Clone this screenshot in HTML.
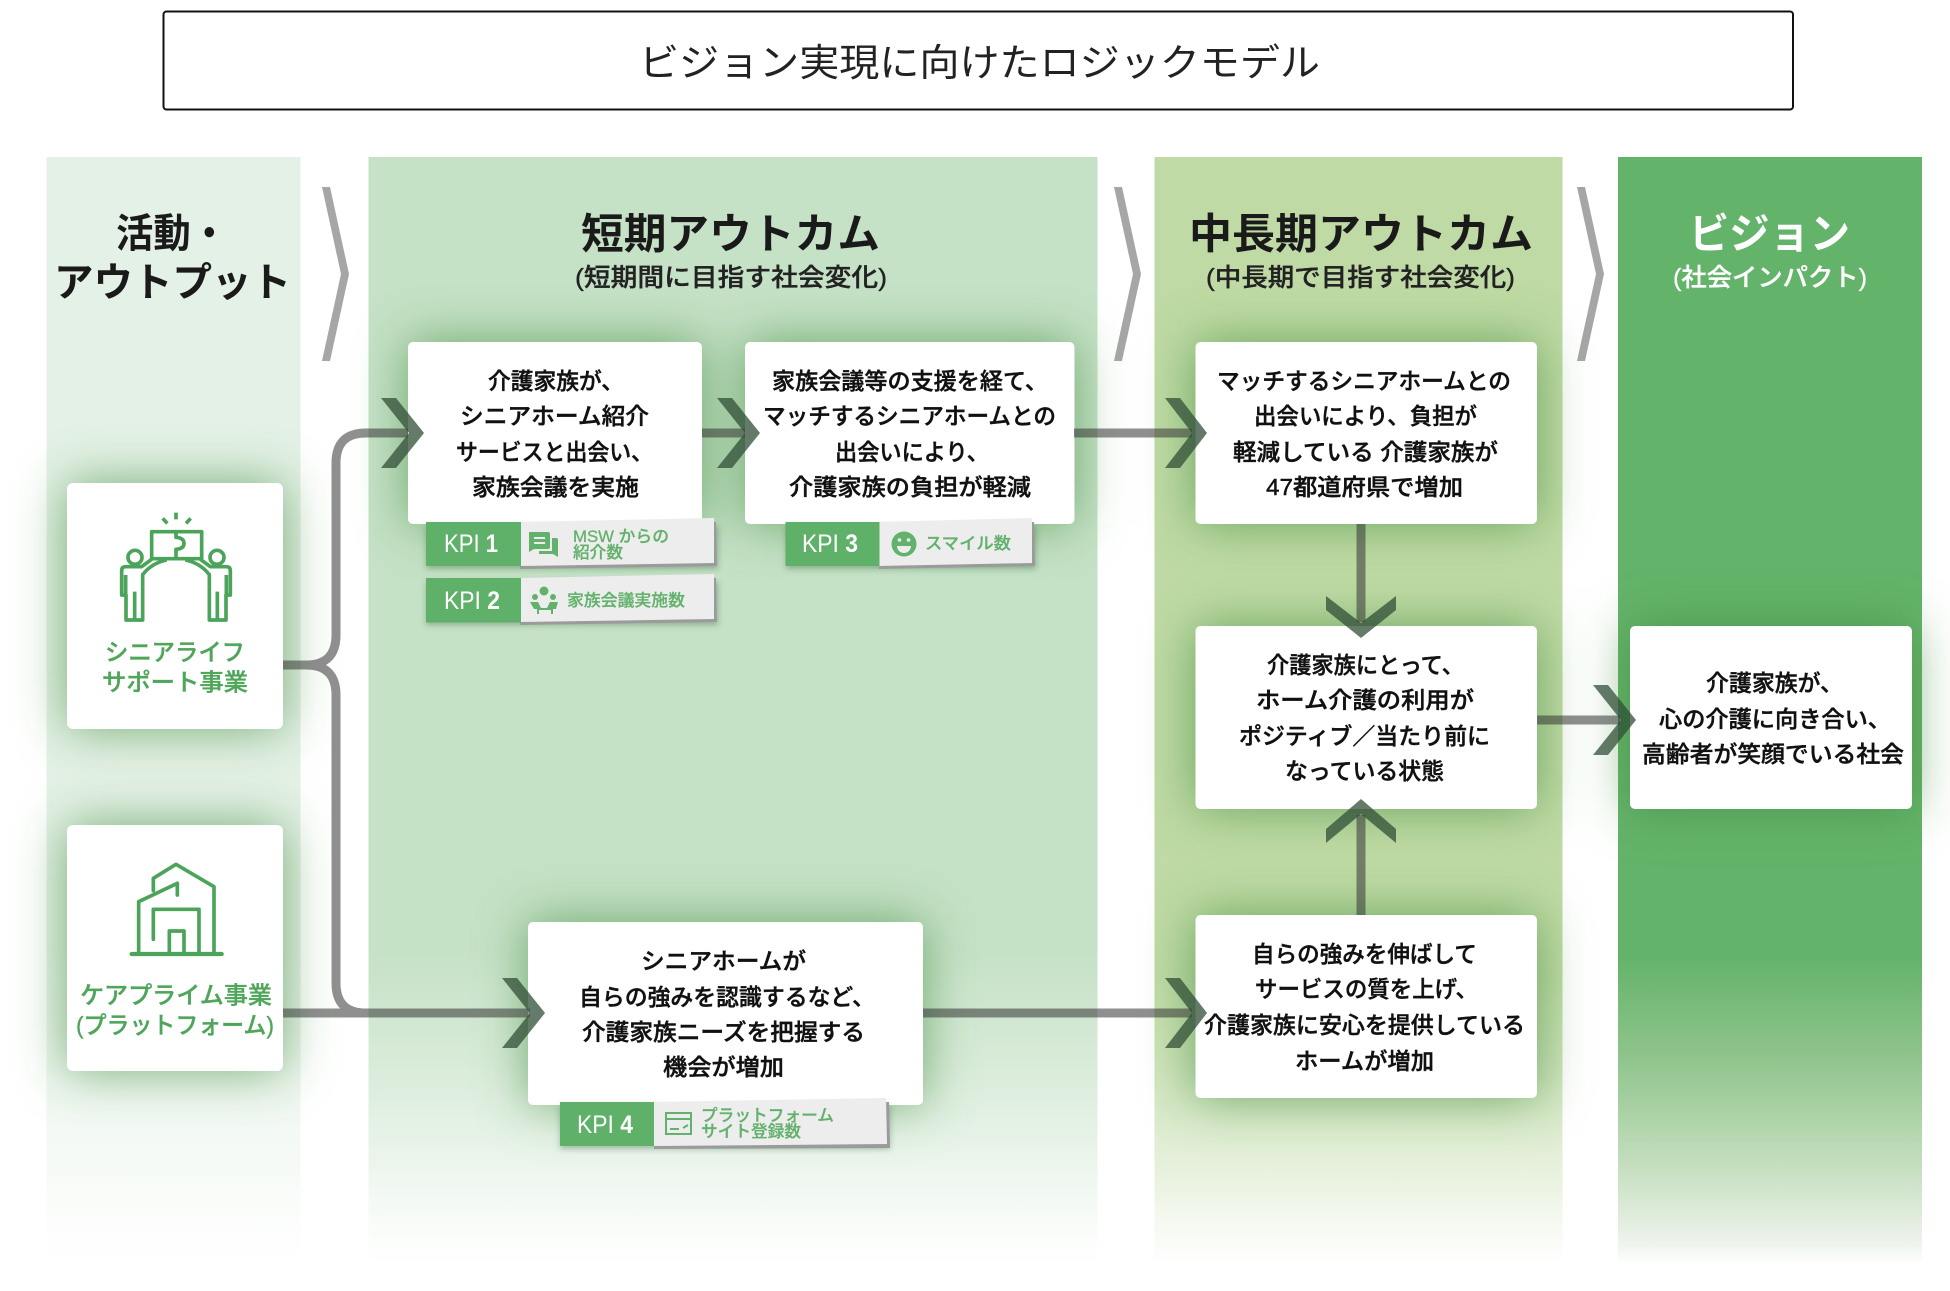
<!DOCTYPE html>
<html lang="ja">
<head>
<meta charset="utf-8">
<title>ビジョン実現に向けたロジックモデル</title>
<style>
html,body{margin:0;padding:0;background:#fff;width:1950px;height:1291px;overflow:hidden}
svg{display:block}
text{font-family:"Liberation Sans","Noto Sans CJK JP",sans-serif;dominant-baseline:central}
.t{font-size:23px;font-weight:500;fill:#111;stroke:#111;stroke-width:.45px}
.h{font-size:42px;font-weight:700;fill:#1a1a1a}
.s{font-size:25px;font-weight:500;fill:#222;stroke:#222;stroke-width:.35px}
.g{font-size:24px;font-weight:500;fill:#4fa65a;stroke:#4fa65a;stroke-width:.35px}
.kw{font-size:25px;fill:#fff;font-family:"Liberation Sans",sans-serif}
.kt{font-size:16.5px;font-weight:500;fill:#62b16c;stroke:#62b16c;stroke-width:.25px}
</style>
</head>
<body>
<svg xmlns="http://www.w3.org/2000/svg" width="1950" height="1291" viewBox="0 0 1950 1291">
<defs>
<linearGradient id="c1" gradientUnits="userSpaceOnUse" x1="0" y1="157" x2="0" y2="1265">
<stop offset="0" stop-color="#e4f1e6"/><stop offset=".716" stop-color="#e4f1e6"/><stop offset=".81" stop-color="#e4f1e6" stop-opacity=".7"/><stop offset=".904" stop-color="#e4f1e6" stop-opacity=".35"/><stop offset=".96" stop-color="#e4f1e6" stop-opacity=".12"/><stop offset="1" stop-color="#e4f1e6" stop-opacity="0"/></linearGradient>
<linearGradient id="c2" gradientUnits="userSpaceOnUse" x1="0" y1="157" x2="0" y2="1265">
<stop offset="0" stop-color="#c5e1c6"/><stop offset=".716" stop-color="#c5e1c6"/><stop offset=".81" stop-color="#c5e1c6" stop-opacity=".7"/><stop offset=".904" stop-color="#c5e1c6" stop-opacity=".35"/><stop offset=".96" stop-color="#c5e1c6" stop-opacity=".12"/><stop offset="1" stop-color="#c5e1c6" stop-opacity="0"/></linearGradient>
<linearGradient id="c3" gradientUnits="userSpaceOnUse" x1="0" y1="157" x2="0" y2="1265">
<stop offset="0" stop-color="#bfdaa4"/><stop offset=".74" stop-color="#bfdaa4"/><stop offset=".83" stop-color="#bfdaa4" stop-opacity=".72"/><stop offset=".92" stop-color="#bfdaa4" stop-opacity=".35"/><stop offset=".97" stop-color="#bfdaa4" stop-opacity=".12"/><stop offset="1" stop-color="#bfdaa4" stop-opacity="0"/></linearGradient>
<linearGradient id="c4" gradientUnits="userSpaceOnUse" x1="0" y1="157" x2="0" y2="1265">
<stop offset="0" stop-color="#64b36a"/><stop offset=".722" stop-color="#64b36a"/><stop offset=".812" stop-color="#8fc48c"/><stop offset=".913" stop-color="#c6dfc0"/><stop offset=".98" stop-color="#eef3ec"/><stop offset="1" stop-color="#ffffff"/></linearGradient>
<filter id="b" filterUnits="userSpaceOnUse" x="0" y="0" width="1950" height="1291"><feGaussianBlur stdDeviation="25"/></filter>
<filter id="ks" filterUnits="userSpaceOnUse" x="0" y="0" width="1950" height="1291"><feGaussianBlur stdDeviation="3"/></filter>
</defs>

<!-- title -->
<rect x="163.5" y="11.5" width="1629.5" height="98" rx="3" fill="#fff" stroke="#111" stroke-width="2"/>
<text x="639" y="64" font-size="38" fill="#222" textLength="681" lengthAdjust="spacingAndGlyphs">ビジョン実現に向けたロジックモデル</text>

<!-- columns -->
<rect x="46.5" y="157" width="254" height="1108" fill="url(#c1)"/>
<rect x="368.5" y="157" width="729" height="1108" fill="url(#c2)"/>
<rect x="1154.5" y="157" width="408" height="1108" fill="url(#c3)"/>
<rect x="1618" y="157" width="304" height="1108" fill="url(#c4)"/>

<!-- chevrons -->
<g fill="#a6a6a6">
<polygon points="322,187 330,187 349,274 330,361 322,361 341,274"/>
<polygon points="1114,187 1122,187 1141,274 1122,361 1114,361 1133,274"/>
<polygon points="1577,187 1585,187 1604,274 1585,361 1577,361 1596,274"/>
</g>

<!-- glows -->
<g filter="url(#b)" fill="#3f8a3c" fill-opacity=".68">
<rect x="408" y="342" width="294" height="182"/>
<rect x="745" y="342" width="329" height="182"/>
<rect x="1195" y="342" width="342" height="182"/>
<rect x="1195" y="626" width="342" height="183"/>
<rect x="1195" y="915" width="342" height="183"/>
<rect x="1630" y="626" width="282" height="183"/>
<rect x="528" y="922" width="395" height="183"/>
<rect x="67" y="483" width="216" height="246"/>
<rect x="67" y="825" width="216" height="246"/>
</g>

<!-- cards -->
<g fill="#fff">
<rect x="408" y="342" width="294" height="182" rx="5"/>
<rect x="745" y="342" width="329.500" height="182" rx="5"/>
<rect x="1195.5" y="342" width="341.5" height="182" rx="5"/>
<rect x="1195.5" y="626" width="341.5" height="183" rx="5"/>
<rect x="1195.5" y="915" width="341.5" height="183" rx="5"/>
<rect x="1630" y="626" width="282" height="183" rx="5"/>
<rect x="528" y="922" width="395" height="183" rx="5"/>
<rect x="67" y="483" width="216" height="246" rx="6"/>
<rect x="67" y="825" width="216" height="246" rx="6"/>
</g>

<!-- connectors -->
<g fill="none" stroke="#373737" stroke-opacity=".56" stroke-width="9">
<path d="M283 665H306Q336 665 336 635V463Q336 433 366 433H408M283 665H306Q336 665 336 695V983Q336 1013 366 1013H530M283 1013H366"/>
<path d="M702 433H745"/>
<path d="M1074 433H1192"/>
<path d="M923 1013H1192"/>
<path d="M1361 524V622"/>
<path d="M1361 915V815"/>
<path d="M1537 720H1620"/>
</g>

<!-- arrowheads -->
<g fill="#2f4d36" fill-opacity=".74">
<polygon points="381,398 396,398 424,433 396,468 381,468 409,433"/>
<polygon points="717,398 732,398 760,433 732,468 717,468 745,433"/>
<polygon points="1165,398 1180,398 1207,433 1180,468 1165,468 1192,433"/>
<polygon points="502,978 517,978 545,1013 517,1048 502,1048 530,1013"/>
<polygon points="1165,978 1180,978 1207,1013 1180,1048 1165,1048 1192,1013"/>
<polygon points="1593,685 1608,685 1636,720 1608,755 1593,755 1621,720"/>
<polygon points="1326,596 1326,610 1361,638 1396,610 1396,596 1361,623"/>
<polygon points="1326,843 1326,829 1361,799 1396,829 1396,843 1361,814"/>
</g>

<!-- KPI tags -->
<g filter="url(#ks)" fill="#2f5a35" fill-opacity=".35">
<rect x="426" y="526" width="292" height="43"/>
<rect x="426" y="582" width="292" height="43"/>
<rect x="786" y="526" width="250" height="43"/>
<rect x="560" y="1106" width="330" height="43"/>
</g>
<g fill="#9b9b9b">
<polygon points="520,526 716,522 717,566 520,569"/>
<polygon points="520,582 716,578 717,622 520,625"/>
<polygon points="879,526 1034,522 1035,566 879,569"/>
<polygon points="654,1106 889,1102 890,1148 654,1149"/>
</g>
<g fill="#ededed">
<polygon points="520,522 714,518 714,563 520,566"/>
<polygon points="520,578 714,574 714,619 520,622"/>
<polygon points="879,522 1032,518 1032,563 879,566"/>
<polygon points="654,1102 886,1098 887,1144 654,1146"/>
</g>
<g fill="#5fb069">
<rect x="426" y="522" width="95" height="44"/>
<rect x="426" y="578" width="95" height="44.5"/>
<rect x="785.5" y="522" width="94" height="44"/>
<rect x="560" y="1102" width="94" height="44"/>
</g>

<!-- KPI labels -->
<text class="kw" x="444" y="544" textLength="54" lengthAdjust="spacingAndGlyphs">KPI <tspan font-weight="700">1</tspan></text>
<text class="kw" x="444" y="601" textLength="56" lengthAdjust="spacingAndGlyphs">KPI <tspan font-weight="700">2</tspan></text>
<text class="kw" x="802" y="544" textLength="56" lengthAdjust="spacingAndGlyphs">KPI <tspan font-weight="700">3</tspan></text>
<text class="kw" x="577" y="1125" textLength="56" lengthAdjust="spacingAndGlyphs">KPI <tspan font-weight="700">4</tspan></text>
<text class="kt" x="573" y="537" textLength="96" lengthAdjust="spacingAndGlyphs">MSW からの</text>
<text class="kt" x="573" y="553" textLength="50" lengthAdjust="spacingAndGlyphs">紹介数</text>
<text class="kt" x="567" y="601" textLength="118" lengthAdjust="spacingAndGlyphs">家族会議実施数</text>
<text class="kt" x="925" y="544" textLength="86" lengthAdjust="spacingAndGlyphs">スマイル数</text>
<text class="kt" x="701" y="1116" textLength="133" lengthAdjust="spacingAndGlyphs">プラットフォーム</text>
<text class="kt" x="701" y="1132" textLength="100" lengthAdjust="spacingAndGlyphs">サイト登録数</text>

<!-- KPI icons -->
<g fill="#62b16c">
<path d="M529 532h19a2 2 0 0 1 2 2v13a2 2 0 0 1-2 2h-14l-5 3z"/>
<path d="M552 538h4a2 2 0 0 1 2 2v17l-5-3h-14v-3h13z"/>
<circle cx="904" cy="544" r="12.5"/>
<circle cx="544" cy="591" r="4.5"/><circle cx="535" cy="597" r="3"/><circle cx="553" cy="597" r="3"/>
<path d="M530 602h8l3 6h6l3-6h8l-2 7h-3v5h-2v-4h-12v4h-2v-5h-3z"/>
</g>
<g stroke="#ededed" stroke-width="2" fill="none"><path d="M534 538h11M534 543h11"/></g>
<circle cx="899.5" cy="540" r="1.8" fill="#ededed"/><circle cx="908.5" cy="540" r="1.8" fill="#ededed"/>
<path d="M897 546h14a7 7 0 0 1-14 0z" fill="#ededed"/>
<g fill="none" stroke="#62b16c" stroke-width="2">
<rect x="666" y="1113" width="25" height="21"/><path d="M666 1119h25M670 1129h9M683 1128l5-3"/>
</g>

<!-- senior life icon -->
<g transform="translate(60,480) scale(.33333)" fill="none" stroke="#4ca35a" stroke-width="11" stroke-linejoin="round" stroke-linecap="butt">
<path d="M308 115l14 15M348 98v20M392 115l-14 15"/>
<path d="M275 236V155H425V236Z"/>
<path d="M348 155V172Q372 174 372 190Q372 206 348 208V236"/>
<circle cx="225" cy="232" r="21"/>
<path d="M320 240C290 246 265 262 248 284V420H198V345H185V272Q185 260 197 260H245L275 238"/>
<path d="M224 335V420M197 285V345"/>
<g transform="translate(696,0) scale(-1,1)">
<circle cx="225" cy="232" r="21"/>
<path d="M320 240C290 246 265 262 248 284V420H198V345H185V272Q185 260 197 260H245L275 238"/>
<path d="M224 335V420M197 285V345"/>
</g>
</g>

<!-- house icon -->
<g transform="translate(60,830) scale(.33333)" fill="none" stroke="#4ca35a" stroke-width="11" stroke-linejoin="round" stroke-linecap="round">
<path d="M215 372H485" stroke-width="13"/>
<path d="M236 372V215L352 160V195"/>
<path d="M280 182V145L348 103L462 170V372"/>
<path d="M280 328V238H417V372"/>
<path d="M328 372V303H372V372"/>
</g>

<!-- headers -->
<text class="h" x="116" y="234" style="font-size:40px" textLength="112" lengthAdjust="spacingAndGlyphs">活動・</text>
<text class="h" x="54" y="283" style="font-size:40px" textLength="237" lengthAdjust="spacingAndGlyphs">アウトプット</text>
<text class="h" x="581" y="234" textLength="299" lengthAdjust="spacingAndGlyphs">短期アウトカム</text>
<text class="s" x="575" y="278" textLength="312" lengthAdjust="spacingAndGlyphs">(短期間に目指す社会変化)</text>
<text class="h" x="1189" y="234" textLength="344" lengthAdjust="spacingAndGlyphs">中長期アウトカム</text>
<text class="s" x="1206" y="278" textLength="309" lengthAdjust="spacingAndGlyphs">(中長期で目指す社会変化)</text>
<text class="h" x="1689" y="234" style="fill:#fff" textLength="161" lengthAdjust="spacingAndGlyphs">ビジョン</text>
<text class="s" x="1673" y="278" style="fill:#fff;stroke:#fff" textLength="194" lengthAdjust="spacingAndGlyphs">(社会インパクト)</text>

<!-- side labels -->
<text class="g" x="105" y="653" textLength="140" lengthAdjust="spacingAndGlyphs">シニアライフ</text>
<text class="g" x="102" y="683" textLength="146" lengthAdjust="spacingAndGlyphs">サポート事業</text>
<text class="g" x="80" y="996" textLength="192" lengthAdjust="spacingAndGlyphs">ケアプライム事業</text>
<text class="g" x="76" y="1026" textLength="198" lengthAdjust="spacingAndGlyphs">(プラットフォーム)</text>

<!-- card text -->
<text class="t" x="488" y="381" textLength="136" lengthAdjust="spacingAndGlyphs">介護家族が、</text>
<text class="t" x="460" y="416" textLength="189" lengthAdjust="spacingAndGlyphs">シニアホーム紹介</text>
<text class="t" x="456" y="452" textLength="197" lengthAdjust="spacingAndGlyphs">サービスと出会い、</text>
<text class="t" x="472" y="487" textLength="167" lengthAdjust="spacingAndGlyphs">家族会議を実施</text>

<text class="t" x="772" y="381" textLength="276" lengthAdjust="spacingAndGlyphs">家族会議等の支援を経て、</text>
<text class="t" x="763" y="416" textLength="293" lengthAdjust="spacingAndGlyphs">マッチするシニアホームとの</text>
<text class="t" x="835" y="452" textLength="154" lengthAdjust="spacingAndGlyphs">出会いにより、</text>
<text class="t" x="789" y="487" textLength="242" lengthAdjust="spacingAndGlyphs">介護家族の負担が軽減</text>

<text class="t" x="1217" y="381" textLength="294" lengthAdjust="spacingAndGlyphs">マッチするシニアホームとの</text>
<text class="t" x="1254" y="416" textLength="223" lengthAdjust="spacingAndGlyphs">出会いにより、負担が</text>
<text class="t" x="1233" y="452" textLength="265" lengthAdjust="spacingAndGlyphs">軽減している 介護家族が</text>
<text class="t" x="1266" y="487" textLength="197" lengthAdjust="spacingAndGlyphs">47都道府県で増加</text>

<text class="t" x="1267" y="665" textLength="197" lengthAdjust="spacingAndGlyphs">介護家族にとって、</text>
<text class="t" x="1256" y="700" textLength="218" lengthAdjust="spacingAndGlyphs">ホーム介護の利用が</text>
<text class="t" x="1239" y="736" textLength="251" lengthAdjust="spacingAndGlyphs">ポジティブ／当たり前に</text>
<text class="t" x="1285" y="771" textLength="159" lengthAdjust="spacingAndGlyphs">なっている状態</text>

<text class="t" x="1252" y="954" textLength="225" lengthAdjust="spacingAndGlyphs">自らの強みを伸ばして</text>
<text class="t" x="1255" y="989" textLength="223" lengthAdjust="spacingAndGlyphs">サービスの質を上げ、</text>
<text class="t" x="1204" y="1025" textLength="321" lengthAdjust="spacingAndGlyphs">介護家族に安心を提供している</text>
<text class="t" x="1295" y="1061" textLength="139" lengthAdjust="spacingAndGlyphs">ホームが増加</text>

<text class="t" x="1706" y="683" textLength="137" lengthAdjust="spacingAndGlyphs">介護家族が、</text>
<text class="t" x="1659" y="719" textLength="232" lengthAdjust="spacingAndGlyphs">心の介護に向き合い、</text>
<text class="t" x="1642" y="754" textLength="262" lengthAdjust="spacingAndGlyphs">高齢者が笑顔でいる社会</text>

<text class="t" x="641" y="961" textLength="165" lengthAdjust="spacingAndGlyphs">シニアホームが</text>
<text class="t" x="579" y="997" textLength="296" lengthAdjust="spacingAndGlyphs">自らの強みを認識するなど、</text>
<text class="t" x="582" y="1032" textLength="283" lengthAdjust="spacingAndGlyphs">介護家族ニーズを把握する</text>
<text class="t" x="663" y="1067" textLength="121" lengthAdjust="spacingAndGlyphs">機会が増加</text>
</svg>
</body>
</html>
